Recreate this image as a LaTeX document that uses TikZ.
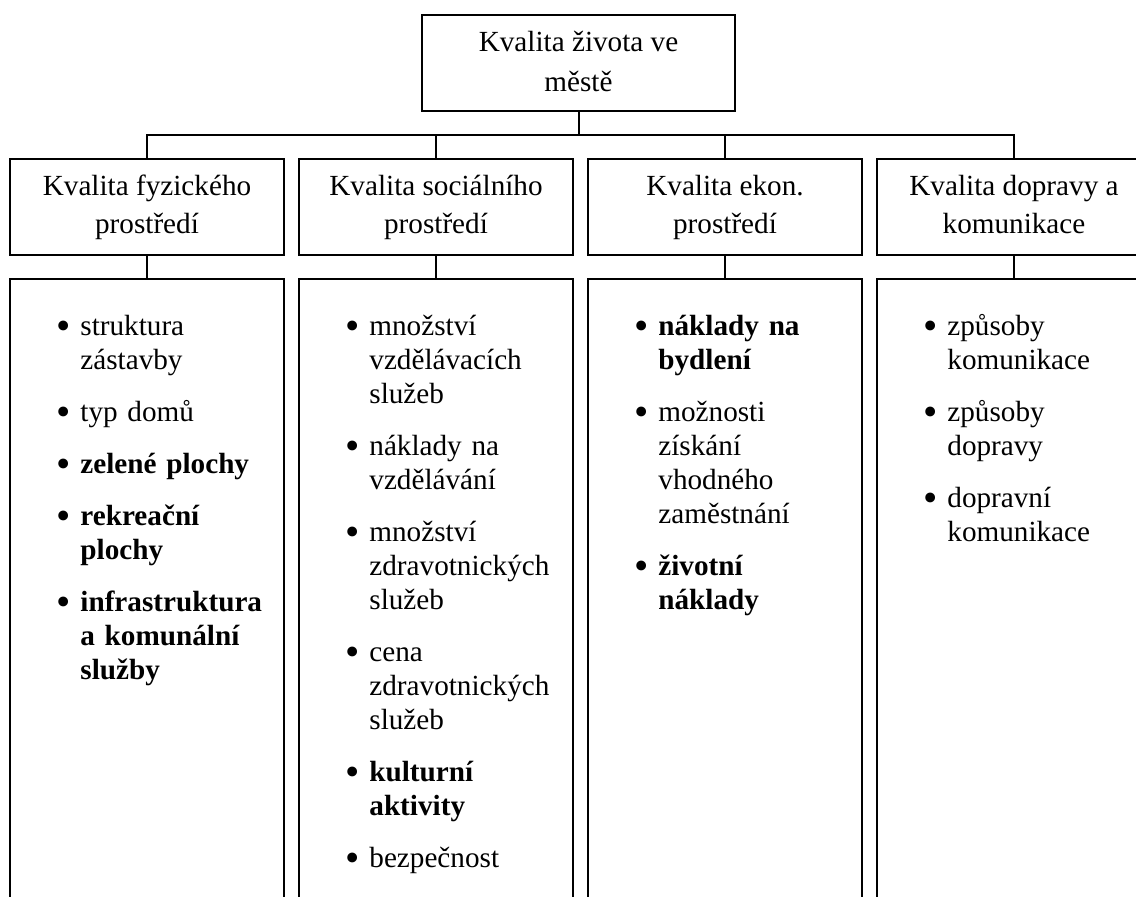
\documentclass[tikz,border=0pt]{standalone}
\usepackage{fontspec}
\setmainfont{Liberation Serif}
\usetikzlibrary{positioning}
\newcommand{\polozka}[1]{\par\hangindent=12pt\hangafter=1\noindent\makebox[12pt][l]{\raisebox{-1.6pt}{\scalebox{1.4}{\textbullet}}}#1\par}

\begin{document}
\begin{tikzpicture}[
    node distance=6.5pt,
    box/.style={rectangle, draw, line width=1pt, minimum width=137pt, minimum height=48pt,
      align=center, inner sep=2pt, text height=30pt, text depth=3pt,
      font=\fontsize{14.6pt}{19pt}\selectfont},
    sloupec/.style={rectangle, draw, line width=1pt, minimum width=137pt, minimum height=350pt,
      below=11pt of #1},
    seznam/.style={anchor=base west, inner sep=0pt, text width=112pt, align=left,
      font=\fontsize{14.6pt}{17pt}\selectfont, execute at begin node=\setlength{\parskip}{9pt}},
    line/.style={line width=1pt}
  ]
  \useasboundingbox (0,0) rectangle (568pt,-448.5pt);
  \clip (0,0) rectangle (568pt,-448.5pt);

  \node[box, minimum width=156.5pt, text height=31pt, text depth=2pt,
    font=\fontsize{14.6pt}{20pt}\selectfont] (zivot) at (289.25pt,-31.5pt) {Kvalita života ve\\městě};
  \node[box] (fyz) at (73.5pt,-103.5pt) {Kvalita fyzického\\prostředí};
  \node[box, right=of fyz] (soc) {Kvalita sociálního\\prostředí};
  \node[box, right=of soc] (ekon) {Kvalita ekon.\\prostředí};
  \node[box, right=of ekon] (dopr) {Kvalita dopravy a\\komunikace};

  \node[sloupec=fyz] (fyzs) {};
  \node[sloupec=soc] (socs) {};
  \node[sloupec=ekon] (ekons) {};
  \node[sloupec=dopr] (doprs) {};

  \node[seznam] (fyzt) at ([xshift=23.5pt, yshift=-3pt]fyzs.north west) {%
    \polozka{struktura\newline zástavby}
    \polozka{typ domů}
    \polozka{\textbf{zelené plochy}}
    \polozka{\textbf{rekreační\newline plochy}}
    \polozka{\textbf{infrastruktura\newline a komunální\newline služby}}};
  \node[seznam] (soct) at ([xshift=23.5pt, yshift=-3pt]socs.north west) {%
    \polozka{množství\newline vzdělávacích\newline služeb}
    \polozka{náklady na\newline vzdělávání}
    \polozka{množství\newline zdravotnických\newline služeb}
    \polozka{cena\newline zdravotnických\newline služeb}
    \polozka{\textbf{kulturní\newline aktivity}}
    \polozka{bezpečnost}};
  \node[seznam] (ekont) at ([xshift=23.5pt, yshift=-3pt]ekons.north west) {%
    \polozka{\textbf{náklady na\newline bydlení}}
    \polozka{možnosti\newline získání\newline vhodného\newline zaměstnání}
    \polozka{\textbf{životní\newline náklady}}};
  \node[seznam] (doprt) at ([xshift=23.5pt, yshift=-3pt]doprs.north west) {%
    \polozka{způsoby\newline komunikace}
    \polozka{způsoby\newline dopravy}
    \polozka{dopravní\newline komunikace}};

  \coordinate (rozvod) at ([yshift=-11.5pt]zivot.south);
  \draw[line] (zivot) -- (rozvod);
  \draw[line] (fyz) |- (rozvod) -| (dopr);
  \draw[line] (soc) -- (soc |- rozvod);
  \draw[line] (ekon) -- (ekon |- rozvod);
  \draw[line] (fyz) -- (fyzs);
  \draw[line] (soc) -- (socs);
  \draw[line] (ekon) -- (ekons);
  \draw[line] (dopr) -- (doprs);
\end{tikzpicture}
\end{document}
